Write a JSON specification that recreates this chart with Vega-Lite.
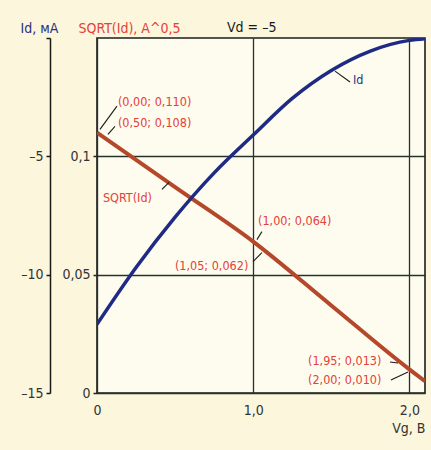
{
  "$schema": "https://vega.github.io/schema/vega-lite/v6.json",
  "width": 328,
  "height": 355,
  "autosize": {"type": "none"},
  "padding": {"left": 97, "top": 38, "right": 6, "bottom": 57},
  "background": "#fbf6dc",
  "config": {
    "font": "DejaVu Sans Condensed, sans-serif",
    "view": {"fill": "#fdfcee", "stroke": "#1c1c1c", "strokeWidth": 1.6},
    "axis": {"labelFont": "DejaVu Sans Condensed, sans-serif", "titleFont": "DejaVu Sans Condensed, sans-serif"}
  },
  "title": {"text": "Vd = –5", "anchor": "start", "frame": "group", "dx": 130, "offset": -14, "fontSize": 14, "fontWeight": "normal", "color": "#1a1a1a", "font": "DejaVu Sans Condensed, sans-serif"},
  "datasets": {
    "sqrtcurve": [
      {"x": 0, "s": 0.110},
      {"x": 0.5, "s": 0.087},
      {"x": 1.0, "s": 0.064},
      {"x": 1.5, "s": 0.037},
      {"x": 2.0, "s": 0.010},
      {"x": 2.1, "s": 0.005}
    ],
    "idcurve": [
      {"x": 0, "id": -12.10},
      {"x": 0.25, "id": -9.70},
      {"x": 0.5, "id": -7.57},
      {"x": 0.75, "id": -5.70},
      {"x": 1.0, "id": -4.10},
      {"x": 1.25, "id": -2.55},
      {"x": 1.5, "id": -1.37},
      {"x": 1.75, "id": -0.55},
      {"x": 2.0, "id": -0.10},
      {"x": 2.1, "id": -0.03}
    ],
    "notes": [
      {"x": 0.134, "s": 0.1229, "t": "(0,00; 0,110)", "series": "sqrt"},
      {"x": 0.134, "s": 0.114, "t": "(0,50; 0,108)", "series": "sqrt"},
      {"x": 0.038, "s": 0.0822, "t": "SQRT(Id)", "series": "sqrt"},
      {"x": 1.031, "s": 0.0725, "t": "(1,00; 0,064)", "series": "sqrt"},
      {"x": 0.499, "s": 0.0538, "t": "(1,05; 0,062)", "series": "sqrt"},
      {"x": 1.351, "s": 0.01356, "t": "(1,95; 0,013)", "series": "sqrt"},
      {"x": 1.351, "s": 0.0055, "t": "(2,00; 0,010)", "series": "sqrt"},
      {"x": 1.639, "s": 0.1322, "t": "Id", "series": "id"}
    ],
    "leaders": [
      {"x": 0.019, "s": 0.1114, "x2": 0.128, "s2": 0.1212},
      {"x": 0.07, "s": 0.1093, "x2": 0.115, "s2": 0.1127},
      {"x": 0.416, "s": 0.086, "x2": 0.461, "s2": 0.089},
      {"x": 1.024, "s": 0.0648, "x2": 1.056, "s2": 0.0682},
      {"x": 0.999, "s": 0.0555, "x2": 1.056, "s2": 0.0593},
      {"x": 1.876, "s": 0.0131, "x2": 1.927, "s2": 0.0127},
      {"x": 1.882, "s": 0.0055, "x2": 1.991, "s2": 0.0089},
      {"x": 1.524, "s": 0.136, "x2": 1.62, "s2": 0.1314}
    ]
  },
  "layer": [
    {
      "data": {"name": "sqrtcurve"},
      "mark": {"type": "line", "color": "#b5472b", "strokeWidth": 4, "interpolate": "monotone", "clip": true},
      "encoding": {
        "x": {
          "field": "x", "type": "quantitative",
          "scale": {"domain": [0, 2.1], "nice": false, "zero": false},
          "axis": {
            "values": [0, 1, 2],
            "labelExpr": "datum.value == 0 ? '0' : datum.value == 1 ? '1,0' : '2,0'",
            "labelFlush": false,
            "ticks": false, "domain": false,
            "grid": true, "gridColor": "#25332b", "gridWidth": 1.3, "gridOpacity": 1,
            "labelPadding": 10, "labelFontSize": 14, "labelColor": "#333333",
            "title": "Vg, В", "titleAnchor": "end", "titleAlign": "right",
            "titleFontWeight": "normal", "titleFontSize": 14, "titlePadding": 4, "titleColor": "#333333"
          }
        },
        "y": {
          "field": "s", "type": "quantitative",
          "scale": {"domain": [0, 0.15], "nice": false},
          "axis": {
            "values": [0, 0.05, 0.1],
            "labelExpr": "datum.value == 0 ? '0' : datum.value == 0.05 ? '0,05' : '0,1'",
            "grid": true, "gridColor": "#25332b", "gridWidth": 1.3, "gridOpacity": 1,
            "domain": false, "tickSize": 4, "tickWidth": 1.5, "tickColor": "#222222",
            "labelPadding": 3, "labelFontSize": 14, "labelColor": "#333333",
            "title": "SQRT(Id), А^0,5", "titleAngle": 0, "titleAlign": "left", "titleBaseline": "alphabetic",
            "titleX": -19, "titleY": -6, "titleColor": "#e5403a", "titleFontWeight": "normal", "titleFontSize": 14
          }
        }
      }
    },
    {
      "data": {"name": "idcurve"},
      "mark": {"type": "line", "color": "#1f2a85", "strokeWidth": 3.5, "interpolate": "monotone", "clip": true},
      "encoding": {
        "x": {"field": "x", "type": "quantitative"},
        "y": {
          "field": "id", "type": "quantitative",
          "scale": {"domain": [-15, 0], "nice": false, "zero": false},
          "axis": {
            "orient": "left", "offset": 47,
            "values": [0, -5, -10, -15],
            "labelExpr": "datum.value == 0 ? '' : '–' + abs(datum.value)",
            "grid": false, "domain": true, "domainColor": "#1a1a1a", "domainWidth": 1.5,
            "tickSize": 4, "tickWidth": 1.5, "tickColor": "#1a1a1a",
            "labelPadding": 3, "labelFontSize": 14, "labelColor": "#333333",
            "title": "Id, мА", "titleAngle": 0, "titleAlign": "left", "titleBaseline": "alphabetic",
            "titleX": -30, "titleY": -6, "titleColor": "#2b3080", "titleFontWeight": "normal", "titleFontSize": 14
          }
        }
      }
    },
    {
      "data": {"name": "leaders"},
      "mark": {"type": "rule", "color": "#1a1a1a", "strokeWidth": 1.1},
      "encoding": {
        "x": {"field": "x", "type": "quantitative"},
        "x2": {"field": "x2"},
        "y": {"field": "s", "type": "quantitative", "scale": {"domain": [0, 0.15], "nice": false}, "axis": null},
        "y2": {"field": "s2"}
      }
    },
    {
      "data": {"name": "notes"},
      "mark": {"type": "text", "align": "left", "baseline": "middle", "fontSize": 12.5},
      "encoding": {
        "x": {"field": "x", "type": "quantitative"},
        "y": {"field": "s", "type": "quantitative", "scale": {"domain": [0, 0.15], "nice": false}, "axis": null},
        "text": {"field": "t"},
        "color": {"field": "series", "type": "nominal", "scale": {"domain": ["sqrt", "id"], "range": ["#e5403a", "#2b3080"]}, "legend": null}
      }
    }
  ],
  "resolve": {"scale": {"y": "independent"}}
}
